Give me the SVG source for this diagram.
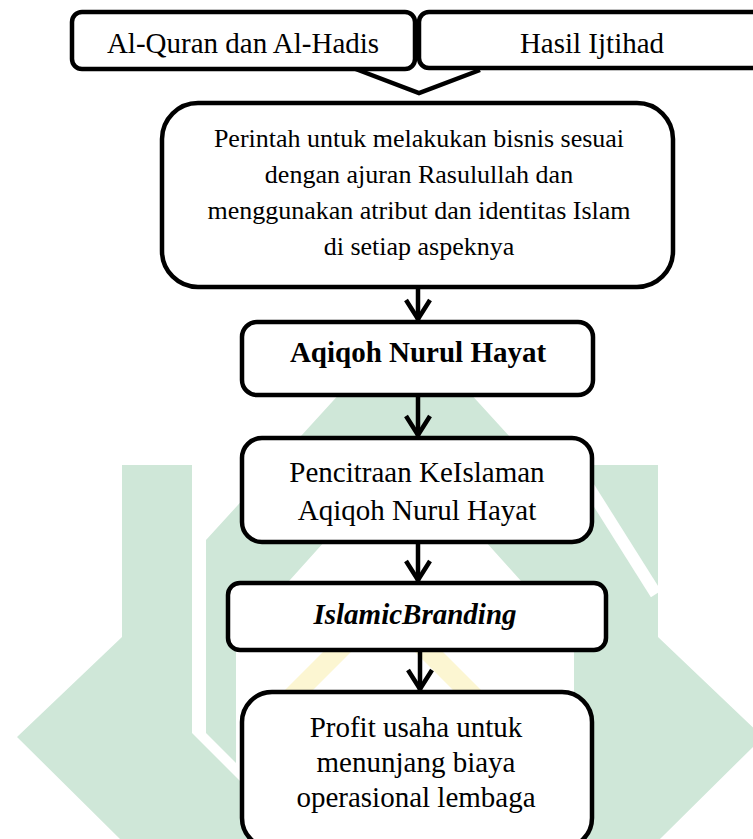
<svg xmlns="http://www.w3.org/2000/svg" width="753" height="839" viewBox="0 0 753 839">
  <defs>
    <style>
      .box { fill: #ffffff; stroke: #000000; stroke-width: 4.5; }
      .t { font-family: "Liberation Serif", "Times New Roman", serif; font-size: 29px; fill: #000000; text-anchor: middle; }
      .t26 { font-size: 26px; }
      .b { font-weight: bold; }
      .bi { font-weight: bold; font-style: italic; }
      .conn { fill: none; stroke: #000000; stroke-width: 4.5; }
      .wm { fill: #cfe7d8; stroke: none; }
      .wmy { fill: #fcf6d2; stroke: none; }
    </style>
    <marker id="vhead" markerUnits="userSpaceOnUse" markerWidth="40" markerHeight="40" viewBox="-30 -20 40 40" refX="0" refY="0" orient="auto" overflow="visible">
      <path d="M-21,-12 L-2,0 L-21,12" fill="none" stroke="#000000" stroke-width="4.5" stroke-linejoin="miter"/>
    </marker>
  </defs>

  <rect x="0" y="0" width="753" height="839" fill="#ffffff"/>

  <g id="watermark">
    <path class="wmy" fill-rule="evenodd" d="M383,592 L493,702 L273,702 Z M383,620 L465,702 L301,702 Z"/>
    <polygon class="wm" points="122,465 192,465 192,733 298,839 120,839 17,737 122,637"/>
    <polygon class="wm" points="658,465 588,465 588,733 482,839 660,839 763,737 658,637"/>
    <polygon class="wm" points="206,540 405,322 405,452 236,640 236,763 206,733"/>
    <polygon class="wm" points="604,540 405,322 405,452 574,640 574,763 604,733"/>
    <line x1="588" y1="486" x2="656" y2="594" stroke="#ffffff" stroke-width="12"/>
  </g>

  <g id="connectors">
    <polyline class="conn" points="353,68 419,93 480,70" stroke-linejoin="miter"/>
    <line class="conn" x1="418" y1="287" x2="418" y2="321" marker-end="url(#vhead)"/>
    <line class="conn" x1="418" y1="396" x2="418" y2="437" marker-end="url(#vhead)"/>
    <line class="conn" x1="418" y1="542" x2="418" y2="582" marker-end="url(#vhead)"/>
    <line class="conn" x1="420" y1="651" x2="420" y2="691" marker-end="url(#vhead)"/>
  </g>

  <g id="node-alquran">
    <rect class="box" x="72" y="12" width="343" height="57" rx="10"/>
    <text class="t" x="243" y="53">Al-Quran dan Al-Hadis</text>
  </g>

  <g id="node-ijtihad">
    <rect class="box" x="419" y="12" width="360" height="56" rx="10"/>
    <text class="t" x="592" y="53">Hasil Ijtihad</text>
  </g>

  <g id="node-perintah">
    <rect class="box" x="162" y="103" width="511" height="184" rx="36"/>
    <text class="t t26" x="419" y="147">Perintah untuk melakukan bisnis sesuai</text>
    <text class="t t26" x="419" y="183">dengan ajuran Rasulullah dan</text>
    <text class="t t26" x="419" y="219">menggunakan atribut dan identitas Islam</text>
    <text class="t t26" x="419" y="255">di setiap aspeknya</text>
  </g>

  <g id="node-aqiqoh">
    <rect class="box" x="242" y="322" width="351" height="73" rx="15"/>
    <text class="t b" x="418" y="362">Aqiqoh Nurul Hayat</text>
  </g>

  <g id="node-pencitraan">
    <rect class="box" x="242" y="438" width="350" height="104" rx="20"/>
    <text class="t" x="417" y="482">Pencitraan KeIslaman</text>
    <text class="t" x="417" y="520">Aqiqoh Nurul Hayat</text>
  </g>

  <g id="node-branding">
    <rect class="box" x="228" y="583" width="378" height="67" rx="12"/>
    <text class="t bi" x="415" y="624">IslamicBranding</text>
  </g>

  <g id="node-profit">
    <rect class="box" x="242" y="692" width="350" height="156" rx="30"/>
    <text class="t" x="416" y="737">Profit usaha untuk</text>
    <text class="t" x="416" y="772">menunjang biaya</text>
    <text class="t" x="416" y="807">operasional lembaga</text>
  </g>
</svg>
